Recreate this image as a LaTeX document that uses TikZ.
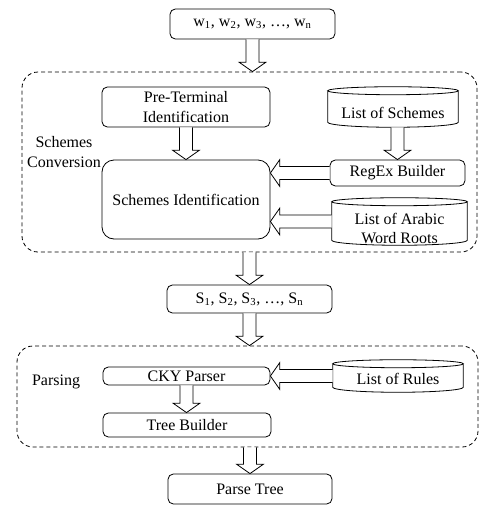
\documentclass[tikz,border=0pt]{standalone}
\usepackage{fontspec}
\setmainfont{Liberation Serif}
\usetikzlibrary{calc}

\tikzset{
  line/.style={draw=black, line width=0.6pt},
  txt/.style={font=\fontsize{12}{14.3}\selectfont, inner sep=0pt, align=center},
  box/.style={line, txt, rounded corners=4pt, minimum width=#1, minimum height=0pt},
  frame/.style={draw=black, line width=0.6pt, dash pattern=on 3pt off 2.2pt, rounded corners=12pt},
  can/.style={txt, minimum width=#1},
  blk/.style={line, fill=white, line join=miter},
}

% hollow block arrow pointing down, from #1.south to #2.north, on the x of #3
\newcommand\blockdown[3]{%
  \draw[blk] let \p1=(#1.south), \p2=(#2.north), \p3=(#3) in
    (\x3-4.9pt,\y1) -- (\x3-4.9pt,\y2+7pt) -- (\x3-10pt,\y2+7pt) -- (\x3,\y2)
    -- (\x3+10pt,\y2+7pt) -- (\x3+4.9pt,\y2+7pt) -- (\x3+4.9pt,\y1);}
% hollow block arrow pointing left, from #1.west to #2.east
\newcommand\blockleft[2]{%
  \draw[blk] let \p1=(#1.west), \p2=(#2.east) in
    (\x1,\y1+4.9pt) -- (\x2+7pt,\y1+4.9pt) -- (\x2+7pt,\y1+10pt) -- (\x2,\y1)
    -- (\x2+7pt,\y1-10pt) -- (\x2+7pt,\y1-4.9pt) -- (\x1,\y1-4.9pt);}
% database drum drawn over the bounds of a node
\newcommand\drawcan[1]{%
  \draw[line] let \p1=(#1.north west), \p2=(#1.south east), \n1={(\x2-\x1)/2} in
    (\x1,\y1-3pt) -- (\x1,\y2+3.75pt)
    arc[start angle=180, end angle=360, x radius=\n1, y radius=3.75pt]
    -- (\x2,\y1-3pt)
    (\x1/2+\x2/2,\y1-3pt) ellipse[x radius=\n1, y radius=3pt];}

\begin{document}
\begin{tikzpicture}[x=0.75pt, y=-0.75pt]
\useasboundingbox (0,0) rectangle (484,507);

% group frames
\node[frame, minimum width=455*0.75pt, minimum height=180*0.75pt] (conv) at (249.5,162) {};
\node[frame, minimum width=461*0.75pt, minimum height=101*0.75pt] (pars) at (247.5,396.5) {};
\node[txt] (convlbl) at (64,152) {Schemes\\Conversion};
\node[txt] (parslbl) at (56,382) {Parsing};

% input words
\node[box=165*0.75pt, minimum height=30*0.75pt] (words) at (252.5,24)
  {w\textsubscript{1}, w\textsubscript{2}, w\textsubscript{3}, …, w\textsubscript{n}};

% schemes conversion stage
\node[box=168*0.75pt, minimum height=40*0.75pt] (pre) at (186,107) {Pre-Terminal\\Identification};
\node[box=168*0.75pt, minimum height=79*0.75pt, rounded corners=9pt] (si) at (186,199.5) {Schemes Identification};
\node[can=130*0.75pt, minimum height=40*0.75pt,
      label={[txt, yshift=-4.5pt]center:List of Schemes}] (lsch) at (393,107) {};
\node[box=135*0.75pt, minimum height=26*0.75pt] (regex) at (397.5,173) {RegEx Builder};
\node[can=135*0.75pt, minimum height=47*0.75pt,
      label={[txt, yshift=-5pt]center:List of Arabic\\Word Roots}] (roots) at (399.5,221.5) {};
\drawcan{lsch}
\drawcan{roots}

% schemes sequence
\node[box=165*0.75pt, minimum height=28*0.75pt] (seq) at (249.5,299)
  {S\textsubscript{1}, S\textsubscript{2}, S\textsubscript{3}, …, S\textsubscript{n}};

% parsing stage
\node[box=167*0.75pt, minimum height=18*0.75pt] (cky) at (186.5,376) {CKY Parser};
\node[can=130*0.75pt, minimum height=32*0.75pt,
      label={[txt, yshift=-2pt]center:List of Rules}] (rules) at (398,376) {};
\drawcan{rules}
\node[box=168*0.75pt, minimum height=24*0.75pt] (tree) at (187,425) {Tree Builder};

% output
\node[box=164*0.75pt, minimum height=30*0.75pt] (parse) at (250,489) {Parse Tree};

% flow
\blockdown{words}{conv}{words}
\blockdown{pre}{si}{pre}
\blockdown{lsch}{regex}{regex}
\blockleft{regex}{si}
\blockleft{roots}{si}
\blockdown{conv}{seq}{conv}
\blockdown{seq}{pars}{seq}
\blockleft{rules}{cky}
\blockdown{cky}{tree}{cky}
\blockdown{pars}{parse}{parse}
\end{tikzpicture}
\end{document}
